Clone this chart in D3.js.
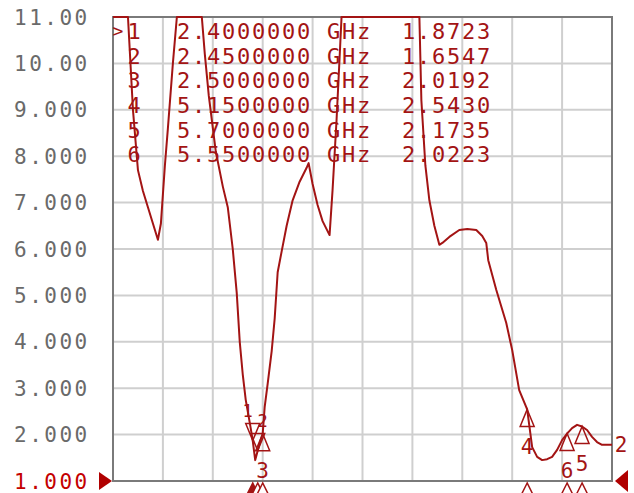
<!DOCTYPE html>
<html>
<head>
<meta charset="utf-8">
<script src="https://cdn.jsdelivr.net/npm/d3@7"></script>
<style>
  body { margin: 0; background: #fff; }
  svg { display: block; }
</style>
</head>
<body>
<div id="container"></div>
<script>
// 1) Datos: traza SWR (GHz, valor)
const freqs = [
  1.00, 1.14, 1.15, 1.20, 1.25, 1.30, 1.35, 1.40, 1.45, 1.48, 1.52, 1.55, 1.60, 1.64,
  1.75, 1.89, 1.92, 1.96, 2.03, 2.10, 2.15, 2.20, 2.24, 2.27, 2.30, 2.33, 2.375, 2.40,
  2.425, 2.45, 2.475, 2.50, 2.52, 2.55, 2.59, 2.62, 2.65, 2.69, 2.74, 2.80, 2.87, 2.94,
  2.96, 3.00, 3.05, 3.10, 3.17, 3.20, 3.24, 3.27, 3.29, 3.50, 4.05, 4.07, 4.09, 4.13,
  4.17, 4.22, 4.27, 4.30, 4.37, 4.47, 4.55, 4.64, 4.70, 4.74, 4.76, 4.84, 4.94, 5.00,
  5.07, 5.15, 5.20, 5.25, 5.30, 5.35, 5.40, 5.45, 5.50, 5.55, 5.60, 5.65, 5.70, 5.75,
  5.80, 5.85, 5.90, 6.00
];
const swr = [
  12, 11.5, 11.0, 9.0, 7.7, 7.25, 6.9, 6.55, 6.2, 6.55, 7.8, 8.6, 10.0, 11.3,
  12, 11.3, 10.2, 9.3, 8.1, 7.35, 6.9, 6.0, 5.05, 4.0, 3.3, 2.75, 2.2, 1.8723,
  1.45, 1.6547, 1.85, 2.0192, 2.6, 3.1, 3.8, 4.5, 5.5, 5.95, 6.5, 7.05, 7.45, 7.75,
  7.85, 7.4, 6.95, 6.6, 6.3, 7.27, 8.78, 10.1, 11.3, 12, 12, 11.0, 9.2, 7.8,
  7.05, 6.5, 6.09, 6.13, 6.26, 6.41, 6.43, 6.41, 6.28, 6.13, 5.76, 5.12, 4.41, 3.82,
  2.96, 2.543, 1.73, 1.52, 1.45, 1.47, 1.52, 1.67, 1.88, 2.0223, 2.14, 2.21, 2.1735, 2.10,
  1.95, 1.84, 1.78, 1.78
];

// Marcadores
const markerIds    = ['1', '2', '3', '4', '5', '6'];
const markerFreqs  = [2.40, 2.45, 2.50, 5.15, 5.70, 5.55];
const markerValues = [1.8723, 1.6547, 2.0192, 2.5430, 2.1735, 2.0223];
const markerFreqText = ['2.4000000', '2.4500000', '2.5000000', '5.1500000', '5.7000000', '5.5500000'];

// Eje Y
const yTicks = [11, 10, 9, 8, 7, 6, 5, 4, 3, 2, 1];
const yTickLabels = ['11.00', '10.00', '9.000', '8.000', '7.000', '6.000', '5.000', '4.000', '3.000', '2.000', '1.000'];
const xGrid = [1.0, 1.5, 2.0, 2.5, 3.0, 3.5, 4.0, 4.5, 5.0, 5.5, 6.0];

function drawViz() {
  // 2) Dimensiones
  const width = 634, height = 493;
  const m = { left: 113, right: 612, top: 17, bottom: 481 };
  const red = '#a31414';

  const svg = d3.select('#container').append('svg')
    .attr('width', width).attr('height', height);
  svg.append('rect').attr('width', width).attr('height', height).attr('fill', '#fff');

  // 3) Escalas
  const x = d3.scaleLinear().domain([1, 6]).range([m.left, m.right]);
  const y = d3.scaleLinear().domain([1, 11]).range([m.bottom, m.top]).clamp(true);

  // 4) Rejilla
  svg.append('g').selectAll('line').data(xGrid).enter().append('line')
    .attr('x1', d => x(d)).attr('x2', d => x(d))
    .attr('y1', m.top).attr('y2', m.bottom)
    .attr('stroke', '#cfcfcf').attr('stroke-width', 2);
  svg.append('g').selectAll('line').data(yTicks).enter().append('line')
    .attr('x1', m.left).attr('x2', m.right)
    .attr('y1', d => y(d)).attr('y2', d => y(d))
    .attr('stroke', '#cfcfcf').attr('stroke-width', 2);

  // Marco
  svg.append('rect')
    .attr('x', m.left).attr('y', m.top)
    .attr('width', m.right - m.left).attr('height', m.bottom - m.top)
    .attr('fill', 'none').attr('stroke', '#7a7a7a').attr('stroke-width', 2);

  // 5) Etiquetas eje Y
  svg.append('g').selectAll('text').data(yTicks).enter().append('text')
    .attr('x', 14).attr('y', d => y(d))
    .attr('dy', '0.36em')
    .attr('font-family', 'DejaVu Sans Mono')
    .attr('font-size', 21)
    .attr('letter-spacing', 2.5)
    .attr('fill', d => d === 1 ? '#c40000' : '#6a6a6a')
    .text((d, i) => yTickLabels[i]);

  // Triángulos de referencia
  svg.append('path')
    .attr('d', d3.line()([[99, y(1) - 9], [112, y(1)], [99, y(1) + 9]]) + 'Z')
    .attr('fill', '#b00000');
  svg.append('path')
    .attr('d', d3.line()([[628, y(1) - 11], [615, y(1)], [628, y(1) + 11]]) + 'Z')
    .attr('fill', '#b00000');

  // 6) Traza
  const pts = freqs.map((f, i) => [x(f), y(swr[i])]);
  svg.append('path')
    .datum(pts)
    .attr('fill', 'none')
    .attr('stroke', red)
    .attr('stroke-width', 2)
    .attr('stroke-linejoin', 'round')
    .attr('d', d3.line());

  // 7) Marcadores sobre la traza (1 y 2 van encima por falta de sitio)
  const above = { '1': -5, '2': 5 };
  const mk = svg.append('g');
  markerIds.forEach((id, i) => {
    const mx = x(markerFreqs[i]), my = y(markerValues[i]);
    const up = id in above;
    const s = up ? -1 : 1;
    mk.append('path')
      .attr('d', d3.line()([[mx, my], [mx - 7, my + s * 17], [mx + 7, my + s * 17]]) + 'Z')
      .attr('fill', 'none').attr('stroke', red).attr('stroke-width', 1.5);
    mk.append('text')
      .attr('x', mx + (up ? above[id] : 0))
      .attr('y', my + s * (up ? 30 : 37)).attr('dy', '0.36em')
      .attr('text-anchor', 'middle')
      .attr('font-family', 'DejaVu Sans Mono').attr('font-size', up ? 17 : 21)
      .attr('fill', red).text(id);
    // triángulo de estímulo bajo el eje
    mk.append('path')
      .attr('d', d3.line()([[mx, m.bottom + 2], [mx - 7, m.bottom + 16], [mx + 7, m.bottom + 16]]) + 'Z')
      .attr('fill', i === 0 ? red : '#fff').attr('stroke', red).attr('stroke-width', 1.5);
  });

  // Etiqueta de traza a la derecha
  svg.append('text')
    .attr('x', 621).attr('y', y(swr[swr.length - 1])).attr('dy', '0.36em')
    .attr('text-anchor', 'middle')
    .attr('font-family', 'DejaVu Sans Mono').attr('font-size', 21)
    .attr('fill', red).text('2');

  // 8) Tabla de marcadores
  const rowY = i => 31 + i * 24.7;
  const tbl = svg.append('g')
    .attr('font-family', 'DejaVu Sans Mono')
    .attr('font-size', 22)
    .attr('fill', red);
  tbl.append('text').attr('x', 118).attr('y', rowY(0)).attr('dy', '0.36em')
    .attr('text-anchor', 'middle').attr('font-size', 18).text('>');
  markerIds.forEach((id, i) => {
    tbl.append('text')
      .attr('x', 134).attr('y', rowY(i)).attr('dy', '0.36em')
      .attr('text-anchor', 'middle').text(id);
    tbl.append('text')
      .attr('x', 177).attr('y', rowY(i)).attr('dy', '0.36em')
      .attr('letter-spacing', 1.75)
      .style('white-space', 'pre')
      .text(markerFreqText[i] + ' GHz  ' + markerValues[i].toFixed(4));
  });
}

drawViz();
</script>
</body>
</html>
